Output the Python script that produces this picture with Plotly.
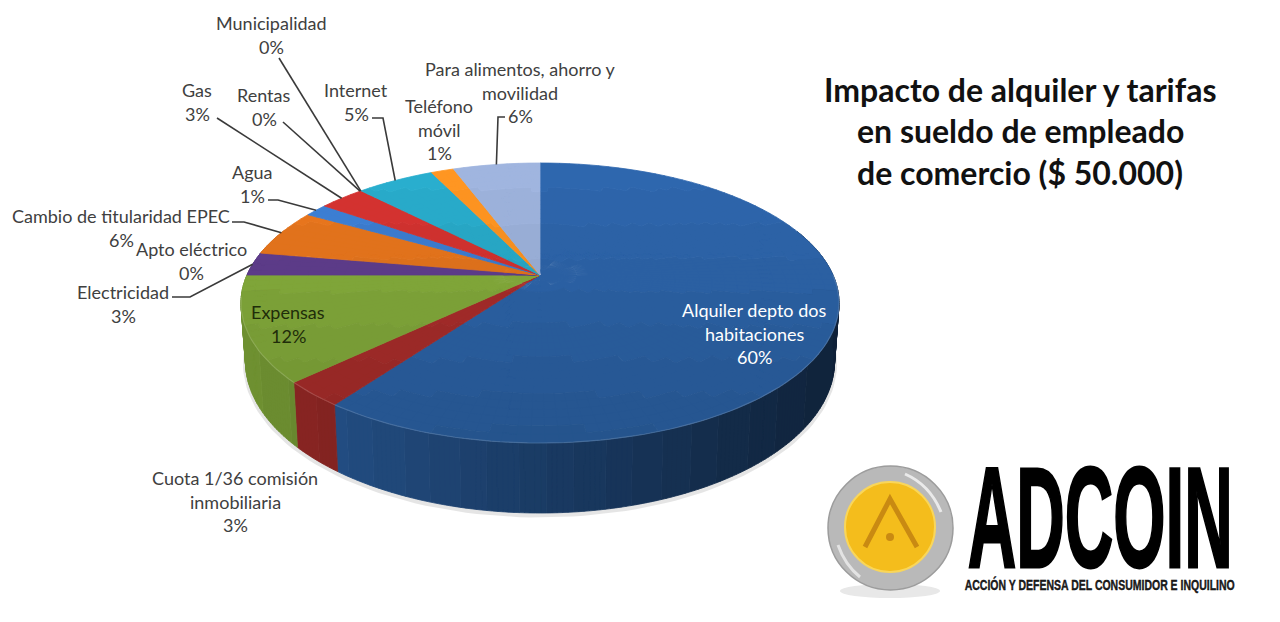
import numpy as np
import plotly.graph_objects as go

# slices, clockwise from 12 o'clock
categories = [
    "Alquiler depto dos<br>habitaciones", "Cuota 1/36 comisión<br>inmobiliaria", "Expensas", "Electricidad",
    "Apto eléctrico", "Cambio de titularidad EPEC", "Agua", "Gas", "Rentas", "Municipalidad",
    "Internet", "Teléfono<br>móvil", "Para alimentos, ahorro y<br>movilidad",
]
values = [60.0, 2.9, 12.1, 2.6, 0.1, 5.5, 1.5, 2.9, 0.05, 0.05, 5.1, 1.5, 5.7]
pct_labels = ["60%", "3%", "12%", "3%", "0%", "6%", "1%", "3%", "0%", "0%", "5%", "1%", "6%"]
colors = [
    "#2b60a2", "#a42c2a", "#7fa539", "#5c3b88", "#5c3b88", "#dc701c", "#3a78c8",
    "#c9302e", "#c9302e", "#c9302e", "#27a2c0", "#f08c20", "#95a9d0",
]

# text placement: centre x, y of first line
label_pos = [
    (754, 310), (235, 478), (288, 312), (123, 292), (191, 249), (121, 216), (252, 172),
    (197, 90), (264, 95), (271, 23), (356, 90), (439, 106), (520, 69),
]
label_color = {0: "#ffffff", 2: "#1f2d0a"}
title_lines = ["Impacto de alquiler y tarifas", "en sueldo de empleado", "de comercio ($ 50.000)"]

# leader lines: where they start at the label, they finish on the rim of the slice
leaders = {
    3: [(172, 297), (190, 297)],
    5: [(232, 222), (244, 222)],
    6: [(268, 200), (278, 200)],
    7: [(217, 118)],
    8: [(283, 122)],
    9: [(279, 58)],
    10: [(372, 118), (383, 118)],
    12: [(505, 117), (498, 117)],
}

# pie geometry, in pixels of the page
CX, CY = 540, 275
A, B, K = 293, 134.4, 0.2
DEPTH = 56
LEVELS = 40


def project(r, theta):
    w = 1 + K * r * np.cos(theta)
    return CX + A * r * np.sin(theta) / w, CY - B * r * np.cos(theta) / w


def shade(hex_color, f):
    rgb = [int(hex_color[i:i + 2], 16) for i in (1, 3, 5)]
    rgb = [min(255, int(c * f)) for c in rgb]
    return f"rgb({rgb[0]},{rgb[1]},{rgb[2]})"


def add_cells(fig, cells, color):
    # cells is a list of (xs, ys, factor); same shade goes into one trace
    buckets = {}
    for xs, ys, f in cells:
        buckets.setdefault(round(f * LEVELS), []).append((xs, ys))
    for level, polys in buckets.items():
        px, py = [], []
        for xs, ys in polys:
            px += list(xs) + [xs[0], None]
            py += list(ys) + [ys[0], None]
        c = shade(color, level / LEVELS)
        fig.add_trace(go.Scatter(x=px, y=py, mode="lines", fill="toself", fillcolor=c,
                                 line=dict(color=c, width=0.8), hoverinfo="skip", showlegend=False))


fig = go.Figure()

edges = np.cumsum([0] + values) / sum(values) * 2 * np.pi

# soft shadow under the pie
th = np.linspace(np.pi * 0.42, np.pi * 1.55, 120)
sx, sy = project(1, th)
fig.add_trace(go.Scatter(x=CX + (sx - CX) * 0.985, y=sy + DEPTH / (1 + K * np.cos(th)) + 2, mode="lines",
                         line=dict(color="rgba(0,0,0,0.10)", width=5), hoverinfo="skip", showlegend=False))

# side wall
for i, color in enumerate(colors):
    steps = max(2, int((edges[i + 1] - edges[i]) / 0.015))
    th = np.linspace(edges[i], edges[i + 1], steps + 1)
    cells = []
    for t0, t1 in zip(th[:-1], th[1:]):
        if np.cos((t0 + t1) / 2) > 0.35:
            continue
        x0, y0 = project(1, t0)
        x1, y1 = project(1, t1)
        d0 = DEPTH / (1 + K * np.cos(t0))
        d1 = DEPTH / (1 + K * np.cos(t1))
        bx0 = CX + (x0 - CX) * 0.985
        bx1 = CX + (x1 - CX) * 0.985
        f = 0.88 - 0.52 * (x0 - 240) / 600
        cells.append(([x0, x1, bx1, bx0], [y0, y1, y1 + d1, y0 + d0], f))
    add_cells(fig, cells, color)

# top face, split in small cells so the shade can follow the height on the page
rings = np.linspace(0, 1, 25)
for i, color in enumerate(colors):
    steps = max(1, int((edges[i + 1] - edges[i]) / 0.04))
    th = np.linspace(edges[i], edges[i + 1], steps + 1)
    cells = []
    for t0, t1 in zip(th[:-1], th[1:]):
        for r0, r1 in zip(rings[:-1], rings[1:]):
            x0, y0 = project(r0, t0)
            x1, y1 = project(r1, t0)
            x2, y2 = project(r1, t1)
            x3, y3 = project(r0, t1)
            f = 1.08 - 0.2 * (((y1 + y2) / 2) - 163) / 280
            cells.append(([x0, x1, x2, x3], [y0, y1, y2, y3], f))
    add_cells(fig, cells, color)

# light edge along the front of the rim
th = np.linspace(np.pi * 0.5, np.pi * 1.45, 120)
rx, ry = project(1, th)
fig.add_trace(go.Scatter(x=rx, y=ry, mode="lines", line=dict(color="rgba(255,255,255,0.14)", width=1.2),
                         hoverinfo="skip", showlegend=False))

# leaders
for i, pts in leaders.items():
    ex, ey = project(1, (edges[i] + edges[i + 1]) / 2)
    fig.add_trace(go.Scatter(x=[p[0] for p in pts] + [ex], y=[p[1] for p in pts] + [ey], mode="lines",
                             line=dict(color="#3a3a3a", width=1.6), hoverinfo="skip", showlegend=False))

annotations = []


def put_text(x, y, text, size, color, family="Lato", bold=False):
    if bold:
        text = f"<b>{text}</b>"
    annotations.append(dict(x=x, y=y, xref="x", yref="y", text=text, showarrow=False, xanchor="center",
                            yanchor="middle", font=dict(size=size, color=color, family=family)))


for i, name in enumerate(categories):
    x, y = label_pos[i]
    lines = name.split("<br>") + [pct_labels[i]]
    for n, line in enumerate(lines):
        put_text(x, y + n * 23.5, line, 18, label_color.get(i, "#404040"))

for n, line in enumerate(title_lines):
    put_text(1020, 89 + n * 41.5, line, 32, "#111111", bold=True)

# logo
shapes = [
    dict(type="circle", x0=840, x1=940, y0=584, y1=598, fillcolor="#e8e8e8", line_width=0, layer="below"),
    dict(type="circle", x0=828, x1=953, y0=466, y1=590, fillcolor="#b9b9b9", line=dict(color="#9c9c9c", width=1.5)),
    dict(type="path", path="M 905 474 Q 930 485 941 512", line=dict(color="rgba(255,255,255,0.7)", width=3)),
    dict(type="path", path="M 838 545 Q 845 565 860 577", line=dict(color="rgba(255,255,255,0.6)", width=3)),
    dict(type="circle", x0=845, x1=935, y0=482, y1=572, fillcolor="#f4bd1c", line=dict(color="#f9d65a", width=2)),
    dict(type="path", path="M 865 547 L 890 499 L 917 547", line=dict(color="#c98a12", width=5), fillcolor="rgba(0,0,0,0)"),
    dict(type="circle", x0=886, x1=894, y0=533, y1=541, fillcolor="#c98a12", line_width=0),
]
put_text(1100, 517, "ADCOIN", 62, "#000000", family="Liberation Sans", bold=True)
put_text(1100, 584, "ACCIÓN Y DEFENSA DEL CONSUMIDOR E INQUILINO", 10, "#222222", family="Liberation Sans", bold=True)

fig.update_layout(
    width=1280, height=622,
    margin=dict(l=0, r=0, t=0, b=0),
    paper_bgcolor="white", plot_bgcolor="white",
    xaxis=dict(range=[0, 1280], visible=False, fixedrange=True),
    yaxis=dict(range=[622, 0], visible=False, fixedrange=True),
    annotations=annotations,
    shapes=shapes,
)

# no page margin, and stretch the logo lettering to its tall condensed shape
stretch = """
document.body.style.margin = '0';
document.querySelectorAll('.annotation-text').forEach(function (t) {
  var big = t.textContent === 'ADCOIN', small = t.textContent.indexOf('ACCIÓN') === 0;
  if (!big && !small) return;
  t.setAttribute('textLength', big ? 265 : 270);
  t.setAttribute('lengthAdjust', 'spacingAndGlyphs');
  t.style.stroke = '#000';
  t.style.strokeWidth = big ? '1.2px' : '0.25px';
  t.style.transformBox = 'fill-box';
  t.style.transformOrigin = 'center';
  t.style.transform = big ? 'scaleY(2.3)' : 'scaleY(1.5)';
});
"""
fig.write_html("out.html", post_script=stretch, config=dict(displayModeBar=False))
